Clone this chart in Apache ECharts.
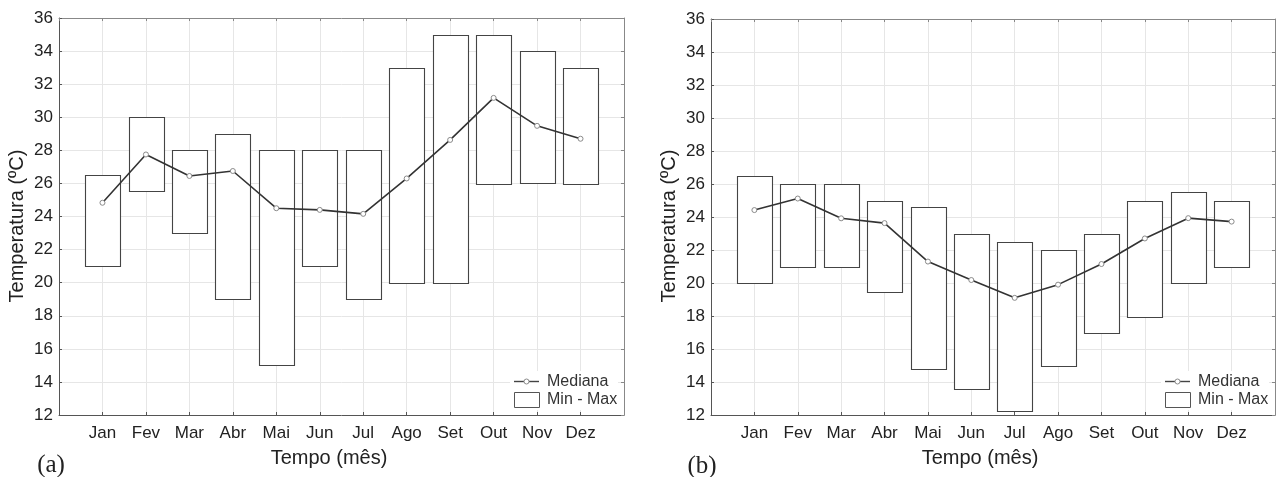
<!DOCTYPE html>
<html>
<head>
<meta charset="utf-8">
<script src="https://cdn.jsdelivr.net/npm/echarts@6/dist/echarts.min.js"></script>
<style>
html,body{margin:0;padding:0;background:#fff;}
#chart{width:1277px;height:477px;}
</style>
</head>
<body>
<div id="chart"></div>
<script>
const months = ['Jan','Fev','Mar','Abr','Mai','Jun','Jul','Ago','Set','Out','Nov','Dez'];
// (a)
const minA = [21, 25.5, 23, 19, 15, 21, 19, 20, 20, 26, 26, 26];
const maxA = [26.5, 30, 28, 29, 28, 28, 28, 33, 35, 35, 34, 33];
const medA = [24.83, 27.75, 26.45, 26.75, 24.5, 24.4, 24.16, 26.3, 28.63, 31.17, 29.48, 28.7];
// (b)
const minB = [20, 21, 21, 19.5, 14.8, 13.6, 12.25, 15, 17, 18, 20, 21];
const maxB = [26.5, 26, 26, 25, 24.6, 23, 22.5, 22, 23, 25, 25.5, 25];
const medB = [24.42, 25.12, 23.92, 23.63, 21.3, 20.18, 19.1, 19.9, 21.15, 22.7, 23.93, 23.72];
const yTicks = {min: 12, max: 36, step: 2};
const legendNames = ['Mediana', 'Min - Max'];

const FONT = '"Liberation Sans", Arial, sans-serif';
const chart = echarts.init(document.getElementById('chart'), null, {renderer: 'canvas'});

function xAxes(gi) {
  return [{
    type: 'value', gridIndex: gi, min: 0, max: 13, interval: 1, position: 'bottom',
    axisLine: {show: true, onZero: false, lineStyle: {color: '#555', width: 1}},
    axisTick: {show: true, inside: true, length: 3, lineStyle: {color: '#555'}},
    axisLabel: {formatter: v => months[v - 1] || '', fontSize: 17, color: '#222', fontFamily: FONT, margin: 10, showMinLabel: false, showMaxLabel: false},
    splitLine: {show: true, lineStyle: {color: '#e6e6e6', width: 1}}
  }, {
    type: 'value', gridIndex: gi, min: 0, max: 13, interval: 1, position: 'top',
    axisLine: {show: true, onZero: false, lineStyle: {color: '#888', width: 1}},
    axisTick: {show: true, inside: true, length: 3, lineStyle: {color: '#888'}},
    axisLabel: {show: false}, splitLine: {show: false}
  }];
}
function yAxes(gi) {
  return [{
    type: 'value', gridIndex: gi, min: yTicks.min, max: yTicks.max, interval: yTicks.step, position: 'left',
    axisLine: {show: true, onZero: false, lineStyle: {color: '#555', width: 1}},
    axisTick: {show: true, inside: true, length: 3, lineStyle: {color: '#555'}},
    axisLabel: {fontSize: 17, color: '#222', fontFamily: FONT, margin: 6},
    splitLine: {show: true, lineStyle: {color: '#e6e6e6', width: 1}}
  }, {
    type: 'value', gridIndex: gi, min: yTicks.min, max: yTicks.max, interval: yTicks.step, position: 'right',
    axisLine: {show: true, onZero: false, lineStyle: {color: '#888', width: 1}},
    axisTick: {show: true, inside: true, length: 3, lineStyle: {color: '#888'}},
    axisLabel: {show: false}, splitLine: {show: false}
  }];
}

function boxSeries(gi, mins, maxs) {
  return {
    type: 'custom', name: legendNames[1], xAxisIndex: gi * 2, yAxisIndex: gi * 2, z: 2,
    data: months.map((m, i) => [i + 1, mins[i], maxs[i]]),
    encode: {x: 0, y: [1, 2]},
    renderItem: function (params, api) {
      const x = api.value(0);
      const lo = api.coord([x, api.value(1)]);
      const hi = api.coord([x, api.value(2)]);
      const w = api.size([0.8, 0])[0];
      return {
        type: 'rect',
        shape: {x: Math.round(lo[0] - w / 2) + 0.5, y: Math.round(hi[1]) + 0.5, width: Math.round(w), height: Math.round(lo[1] - hi[1])},
        style: {fill: '#fff', stroke: '#444', lineWidth: 1.1}
      };
    }
  };
}
function medSeries(gi, meds) {
  return {
    type: 'line', name: legendNames[0], xAxisIndex: gi * 2, yAxisIndex: gi * 2, z: 5,
    data: meds.map((v, i) => [i + 1, v]),
    symbol: 'circle', symbolSize: 5, showAllSymbol: true,
    itemStyle: {color: '#fff', borderColor: '#8a8a8a', borderWidth: 1},
    lineStyle: {color: '#333', width: 1.6},
    emphasis: {disabled: true}
  };
}
function legendGraphic(x, wBg) {
  const y = 374;
  return [
    {type: 'rect', z: 50, shape: {x: x - 4, y: y - 3, width: wBg, height: 39}, style: {fill: '#fff', lineWidth: 0}},
    {type: 'line', z: 51, shape: {x1: x, y1: y + 7.5, x2: x + 25, y2: y + 7.5}, style: {stroke: '#444', lineWidth: 1.4}},
    {type: 'circle', z: 52, shape: {cx: x + 12.5, cy: y + 7.5, r: 2.5}, style: {fill: '#fff', stroke: '#8a8a8a', lineWidth: 1}},
    {type: 'rect', z: 51, shape: {x: x + 0.5, y: y + 18.5, width: 25, height: 15}, style: {fill: '#fff', stroke: '#555', lineWidth: 1}},
    {type: 'text', z: 51, x: x + 33, y: y + 7.5, style: {text: legendNames[0], fontSize: 16, fontFamily: FONT, fill: '#333', verticalAlign: 'middle'}},
    {type: 'text', z: 51, x: x + 33, y: y + 26, style: {text: legendNames[1], fontSize: 16, fontFamily: FONT, fill: '#333', verticalAlign: 'middle'}}
  ];
}
function txt(x, y, s, size, rot, fam) {
  return {type: 'text', x: x, y: y, rotation: rot || 0, z: 10,
    style: {text: s, fontSize: size, fontFamily: fam || FONT, fill: '#222', align: 'center', verticalAlign: 'middle'}};
}

chart.setOption({
  animation: false,
  backgroundColor: '#fff',
  grid: [
    {left: 59, top: 18, width: 565, height: 397, show: false},
    {left: 711, top: 19, width: 564, height: 396, show: false}
  ],
  xAxis: xAxes(0).concat(xAxes(1)),
  yAxis: yAxes(0).concat(yAxes(1)),
  series: [
    boxSeries(0, minA, maxA), medSeries(0, medA),
    boxSeries(1, minB, maxB), medSeries(1, medB)
  ],
  graphic: legendGraphic(514, 108).concat(legendGraphic(1165, 108)).concat([
    txt(17, 226, 'Temperatura (ºC)', 20, Math.PI / 2),
    txt(669, 226, 'Temperatura (ºC)', 20, Math.PI / 2),
    txt(329, 458, 'Tempo (mês)', 20),
    txt(980, 458, 'Tempo (mês)', 20),
    txt(51, 465, '(a)', 25, 0, '"Liberation Serif", "Times New Roman", serif'),
    txt(702, 466, '(b)', 25, 0, '"Liberation Serif", "Times New Roman", serif')
  ])
});
</script>
</body>
</html>
